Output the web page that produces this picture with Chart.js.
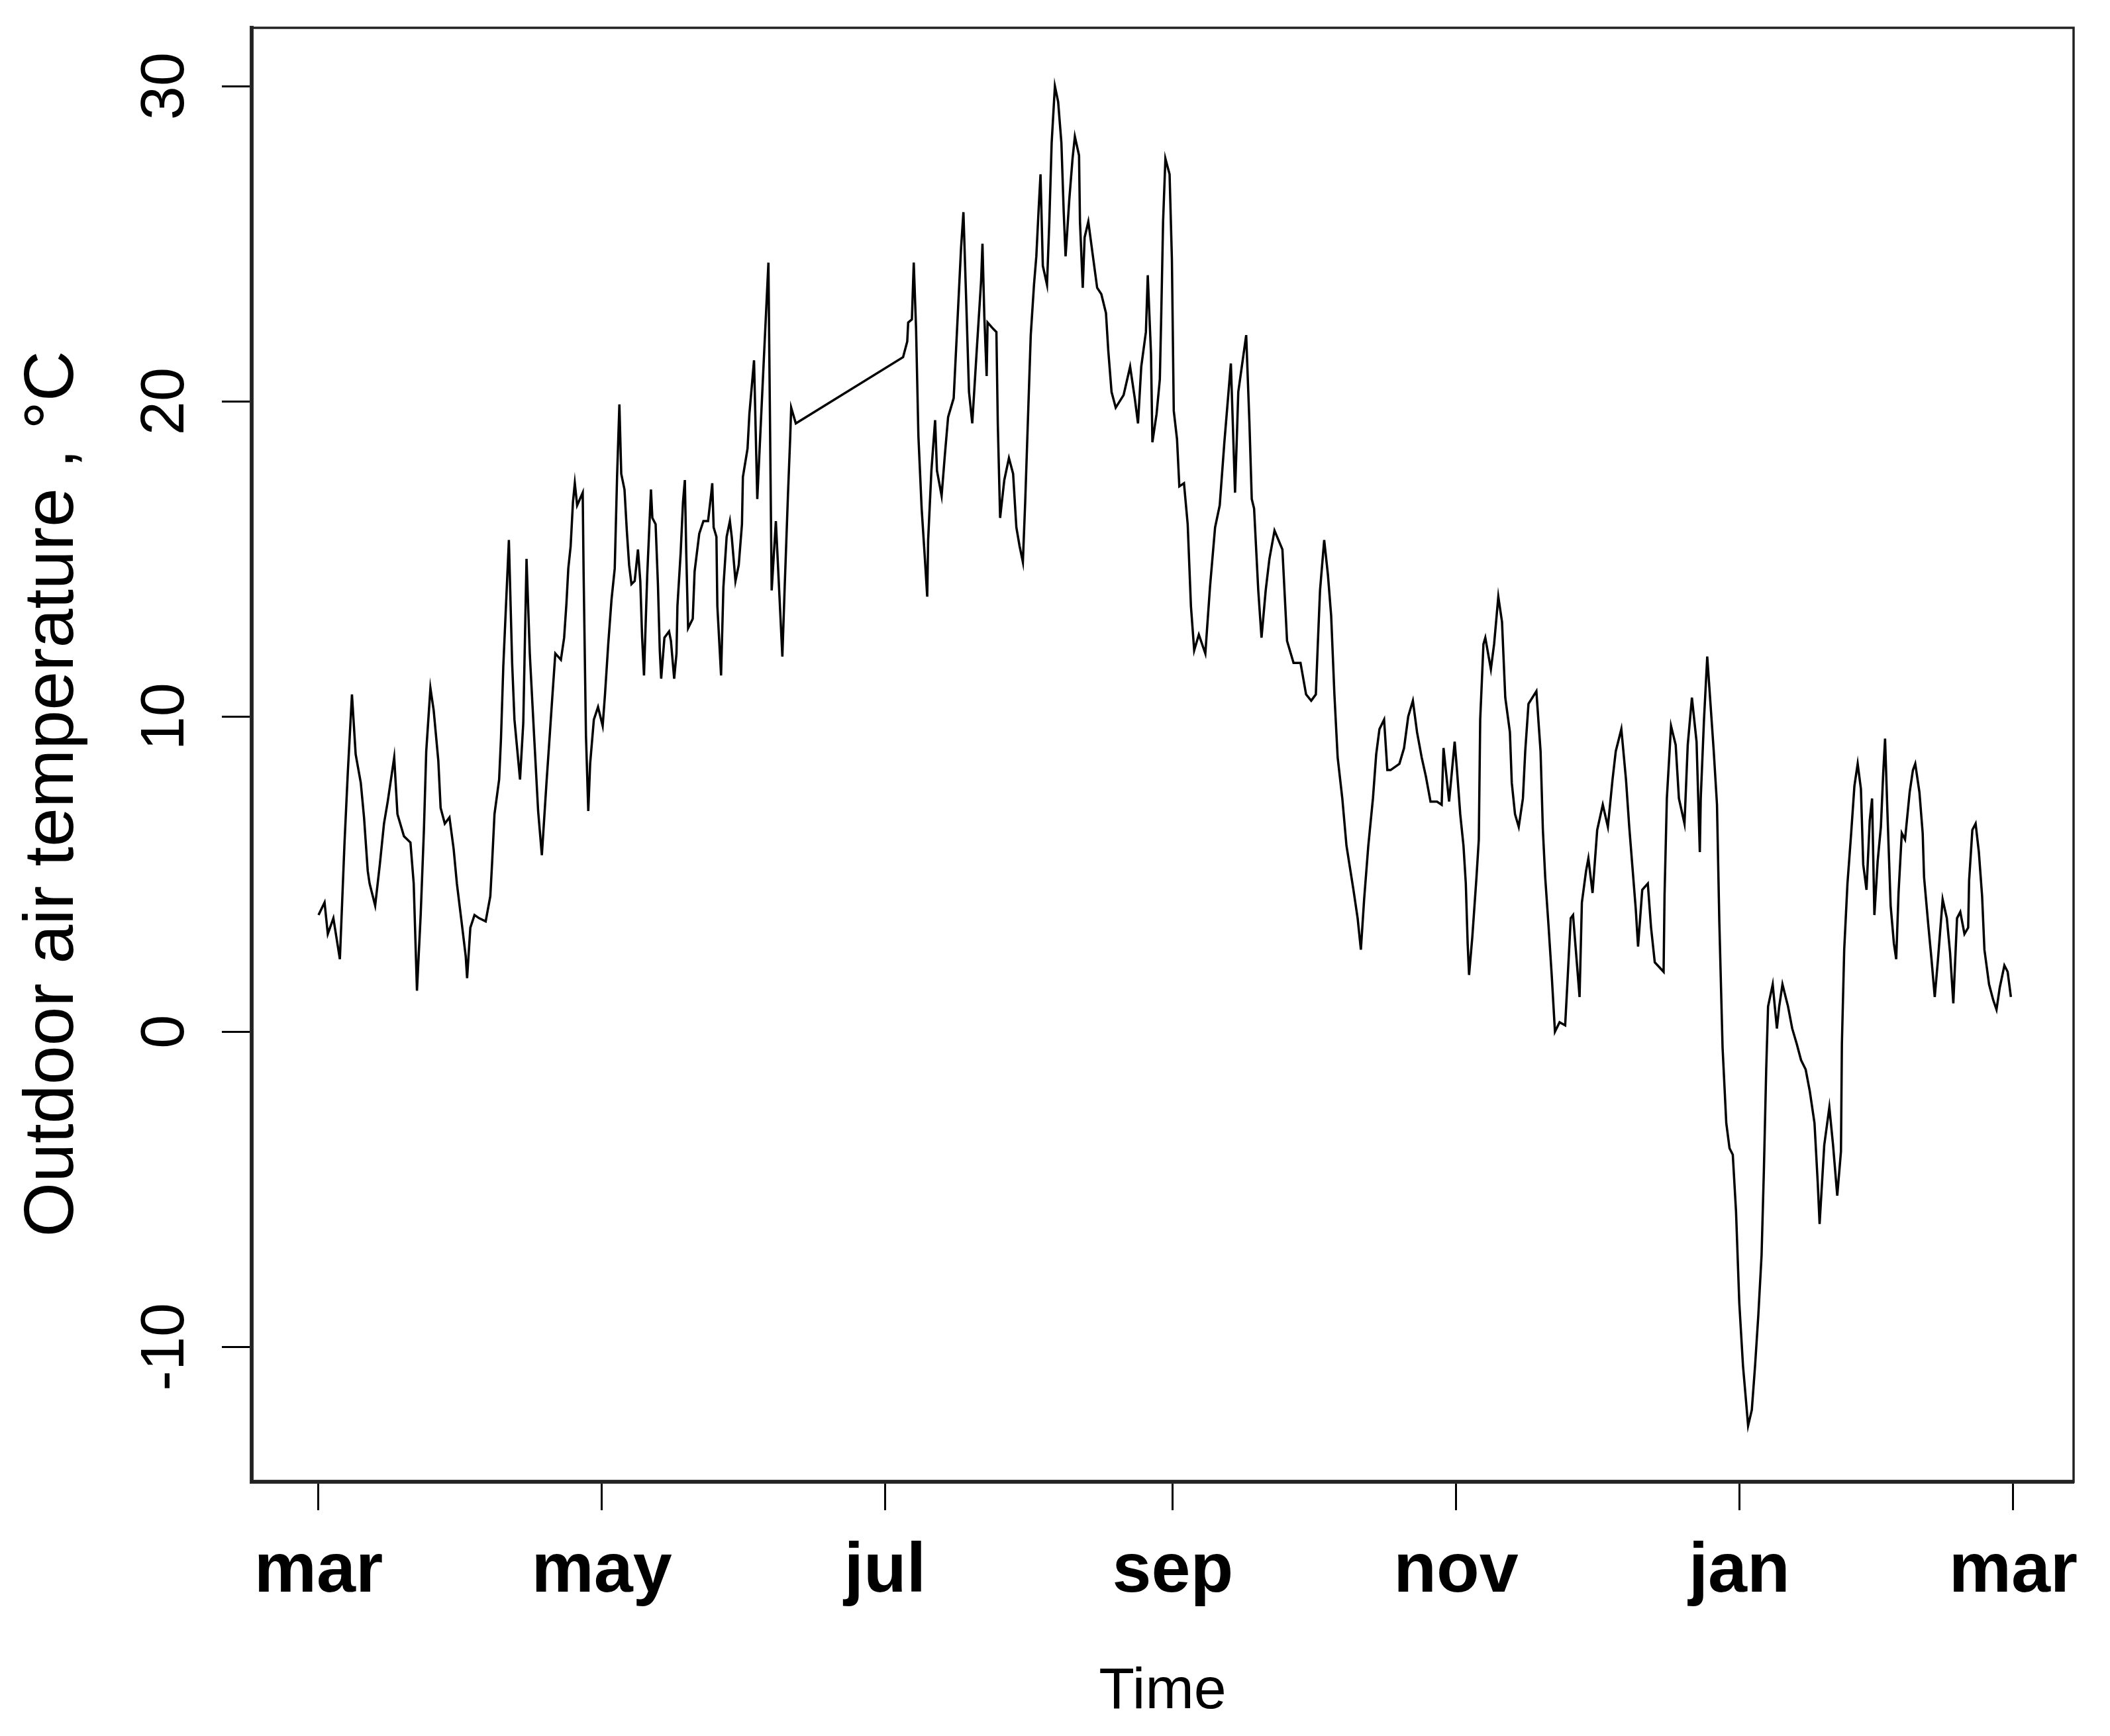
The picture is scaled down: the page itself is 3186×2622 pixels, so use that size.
<!DOCTYPE html>
<html>
<head>
<meta charset="utf-8">
<title>Outdoor air temperature</title>
<script src="https://cdn.jsdelivr.net/npm/chart.js@4.4.1/dist/chart.umd.min.js"></script>
<style>
  html, body { margin: 0; padding: 0; background: #fff; }
  #wrap { width: 3186px; height: 2622px; }
</style>
</head>
<body>
<div id="wrap"><canvas id="chart" width="3186" height="2622"></canvas></div>
<script>
// days counted from 1 March, temperatures in degrees C
const days = [
  0, 1.3, 2, 3.2, 4.6, 5.6, 6.3, 7.2, 8, 9.1, 9.8, 10.6, 11, 12.2, 13.2, 14.1, 14.9, 16.3, 17, 18.4,
  19.8, 20.5, 21.2, 22, 22.7, 23.2, 24.1, 24.8, 25.8, 26.3, 27.2, 28.2, 29.1, 29.8, 30.8, 31.7, 32, 32.7, 33.6, 34.6,
  36, 37, 37.4, 37.9, 38.9, 39.3, 39.8, 41, 41.7, 42.2, 43.4, 44.1, 44.8, 45.5, 46.5, 47.3, 48.1, 49.1, 49.8, 50.3,
  51, 52.2, 52.9, 53.4, 53.8, 54.3, 54.8, 55.2, 55.7, 56.9, 57.1, 57.6, 58.1, 58.5, 59.3, 60.2, 61.2, 61.7, 62.4, 63.1,
  63.8, 64.3, 64.8, 65.2, 65.9, 66.4, 66.9, 67.4, 68.1, 68.8, 69.3, 69.7, 70.1, 70.8, 71.6, 71.9, 72.6, 73.1, 73.5, 73.8,
  74.5, 75.5, 75.9, 76.6, 77.1, 77.3, 78, 78.5, 78.9, 79.2, 79.6, 80.6, 81, 82, 82.9, 83.9, 84.6, 84.8, 85.1, 85.7,
  85.9, 86.7, 87.2, 87.9, 88.6, 89, 89.8, 90.5, 91.2, 91.4, 92.4, 92.8, 93.8, 94.5, 95.9, 96.9, 97.1, 97.6, 98.5, 99.9,
  100.4, 101.1, 101.6, 101.8, 102.8, 125.9, 126.8, 127, 127.8, 128.2, 128.7, 129.2, 129.9, 130.6, 131.1, 131.3, 132, 132.8, 133.2, 134.2,
  134.9, 135.6, 136.8, 137.5, 138.4, 138.9, 139.6, 140.1, 140.8, 141.8, 142.7, 143, 143.4, 143.9, 144.1, 145.3, 146, 146.3, 146.8, 147.7,
  148.7, 149.6, 150.3, 151, 151.7, 152.2, 152.9, 153.4, 154.1, 154.6, 155.1, 155.5, 156, 156.9, 157.4, 157.9, 158.6, 159.3, 160, 160.5,
  160.9, 161.7, 162.4, 162.9, 163.8, 164, 164.6, 165, 165.8, 166.7, 167.7, 168.6, 169.6, 170.1, 170.8, 171.7, 173.4, 174.8, 175.8, 176.5,
  177.2, 178.2, 178.6, 179.3, 179.6, 180.5, 181.2, 181.5, 181.9, 182.4, 183.3, 183.8, 184.2, 184.9, 185.4, 186.4, 187.2, 187.9, 188.6, 189.6,
  191, 192, 193.1, 194.1, 195.1, 196.5, 197.4, 198.1, 199.8, 200.5, 201, 201.5, 202.4, 203.1, 204, 204.8, 205.9, 207.6, 208.6, 210,
  211.5, 212.7, 213.8, 214.8, 215.2, 215.7, 216.6, 217.4, 218.1, 218.8, 219.5, 220.5, 221.4, 222.9, 223.8, 224.5, 225.2, 226.1, 227.1, 227.8,
  228.5, 229.5, 230.2, 230.9, 232.8, 233.8, 234.7, 235.7, 236.6, 237.6, 238.5, 239.5, 240.9, 241.9, 242.3, 243.5, 244.7, 245.2, 245.9, 246.6,
  247.1, 247.5, 247.8, 248.5, 249.4, 249.9, 250.2, 250.9, 251.3, 252.5, 253.2, 254.1, 254.9, 255.6, 256.6, 257, 257.7, 258.5, 259.4, 259.9,
  260.6, 262.3, 263.2, 263.7, 264.2, 264.9, 265.6, 266.3, 267.3, 268.5, 269, 269.7, 270.2, 270.9, 271.6, 272.1, 273, 273.5, 274.4, 275.4,
  276.6, 277.7, 278.7, 279.4, 280.6, 281.6, 282.3, 283, 283.7, 284.2, 285.1, 286.3, 287, 287.8, 289.7, 289.9, 290.4, 291.3, 292.3, 293,
  294.2, 294.9, 295.8, 296.8, 297.5, 297.7, 298.4, 299.1, 299.8, 300.5, 301.2, 301.7, 302.4, 303.2, 303.9, 304.6, 305.3, 306, 306.8, 307.5,
  307.9, 308.7, 309.4, 310.1, 310.8, 311.3, 311.8, 312.2, 313.2, 314.1, 314.6, 315.3, 316.5, 317.4, 318.4, 319.3, 320.3, 321.2, 322.2, 322.9,
  323.3, 324.3, 325.4, 326.2, 327.1, 327.9, 328.1, 328.6, 329.3, 330.1, 330.8, 331.5, 332.2, 332.7, 333.4, 334.1, 334.6, 335.1, 335.8, 336.5,
  337, 337.4, 337.9, 338.6, 339.3, 339.8, 340.3, 341, 341.7, 342.7, 343.4, 343.9, 344.8, 345.5, 345.8, 346.7, 347.4, 348.1, 348.8, 349.8,
  350.7, 351.4, 352.1, 352.9, 353.6, 354.5, 355.3, 355.5, 356.2, 356.9, 357.6, 358.3, 358.8, 359.8, 360.7, 361.4, 362.1, 363.1, 363.8, 364.5
];
const temps = [
  3.7, 4.1, 3.1, 3.6, 2.3, 6.0, 8.2, 10.7, 8.8, 7.9, 6.8, 5.1, 4.7, 4.0, 5.3, 6.6, 7.3, 8.7, 6.9, 6.2,
  6.0, 4.7, 1.3, 3.7, 6.4, 8.9, 10.9, 10.2, 8.6, 7.1, 6.6, 6.8, 5.8, 4.7, 3.5, 2.4, 1.7, 3.3, 3.7, 3.6,
  3.5, 4.3, 5.4, 6.9, 8.0, 9.3, 11.6, 15.6, 11.7, 9.9, 8.0, 9.8, 15.0, 12.0, 9.2, 7.0, 5.6, 7.9, 9.4, 10.5,
  12.0, 11.8, 12.5, 13.6, 14.7, 15.4, 16.8, 17.4, 16.7, 17.1, 14.5, 9.4, 7.0, 8.5, 9.9, 10.3, 9.7, 10.7, 12.3, 13.7,
  14.7, 17.6, 19.9, 17.7, 17.2, 15.9, 14.8, 14.2, 14.3, 15.3, 14.3, 12.5, 11.3, 14.5, 17.2, 16.3, 16.1, 14.2, 12.1, 11.2,
  12.5, 12.7, 12.4, 11.2, 12.0, 13.5, 15.2, 16.8, 17.5, 15.2, 12.8, 13.1, 14.6, 15.8, 16.2, 16.2, 17.1, 17.4, 16.0, 15.7,
  13.5, 11.3, 14.1, 15.7, 16.2, 15.7, 14.3, 14.8, 16.1, 17.6, 18.5, 19.6, 21.3, 16.9, 21.3, 24.4, 21.4, 14.0, 16.2, 11.9,
  14.1, 17.0, 18.9, 19.8, 19.3, 21.4, 21.9, 22.5, 22.6, 24.4, 22.3, 18.9, 16.6, 15.0, 13.8, 15.6, 17.8, 19.4, 17.8, 17.0,
  18.3, 19.5, 20.1, 22.2, 24.9, 26.0, 22.7, 20.3, 19.3, 21.7, 23.8, 25.0, 22.7, 20.8, 22.5, 22.3, 22.2, 19.3, 16.3, 17.5,
  18.2, 17.7, 16.0, 15.4, 14.9, 16.8, 19.9, 22.1, 23.7, 24.6, 26.1, 27.2, 24.3, 23.7, 25.7, 28.2, 30.0, 29.5, 28.2, 26.0,
  24.6, 26.4, 27.7, 28.4, 27.8, 25.7, 23.6, 25.2, 25.7, 24.7, 23.6, 23.4, 22.8, 21.6, 20.3, 19.8, 20.2, 21.1, 20.1, 19.3,
  21.1, 22.2, 24.0, 21.5, 18.7, 19.6, 20.7, 22.7, 25.7, 27.7, 27.2, 24.5, 19.7, 18.8, 17.3, 17.4, 16.1, 13.5, 12.1, 12.6,
  12.0, 14.1, 16.0, 16.7, 18.7, 21.2, 17.1, 20.3, 22.1, 19.3, 16.9, 16.6, 14.0, 12.5, 14.0, 15.0, 15.9, 15.3, 12.4, 11.7,
  11.7, 10.7, 10.5, 10.7, 12.2, 14.0, 15.6, 14.5, 13.2, 10.7, 8.7, 7.4, 5.9, 4.5, 3.6, 2.6, 4.2, 5.9, 7.4, 8.8,
  9.6, 9.9, 8.3, 8.3, 8.5, 9.0, 10.0, 10.5, 9.5, 8.7, 8.1, 7.3, 7.3, 7.2, 9.0, 7.3, 9.2, 8.3, 6.9, 5.9,
  4.7, 2.8, 1.8, 3.0, 4.9, 6.1, 9.9, 12.3, 12.5, 11.5, 12.3, 13.8, 13.0, 10.6, 9.5, 7.9, 6.9, 6.5, 7.4, 8.9,
  10.4, 10.8, 8.9, 6.4, 4.9, 3.4, 1.8, 0.0, 0.3, 0.2, 1.6, 3.6, 3.7, 2.4, 1.1, 4.1, 5.1, 5.5, 4.4, 6.4,
  7.2, 6.5, 8.0, 8.9, 9.6, 8.0, 6.5, 5.2, 3.9, 2.7, 4.5, 4.7, 3.3, 2.2, 1.9, 4.3, 7.4, 9.7, 9.1, 7.4,
  6.6, 9.1, 10.6, 9.2, 5.7, 7.4, 9.9, 11.9, 10.4, 8.9, 7.2, 3.5, -0.5, -2.9, -3.7, -3.9, -5.7, -8.6, -10.6, -11.8,
  -12.5, -12.0, -10.6, -9.0, -7.1, -4.4, -1.2, 0.8, 1.5, 0.1, 0.8, 1.5, 0.8, 0.1, -0.4, -0.9, -1.2, -1.9, -2.9, -4.8,
  -6.1, -3.6, -2.4, -3.6, -5.2, -3.8, -0.4, 2.6, 4.7, 6.3, 7.8, 8.5, 7.7, 5.3, 4.5, 6.7, 7.4, 3.7, 5.4, 6.5,
  8.2, 9.3, 7.0, 4.0, 2.8, 2.3, 4.4, 6.3, 6.1, 7.6, 8.3, 8.5, 7.6, 6.3, 4.9, 3.4, 2.3, 1.1, 2.3, 4.2,
  3.6, 2.5, 0.9, 3.6, 3.8, 3.1, 3.3, 4.8, 6.4, 6.6, 5.7, 4.3, 2.6, 1.5, 1.0, 0.7, 1.4, 2.1, 1.9, 1.1
];

// month ticks (days from 1 March) and their labels
const monthDays = [0, 61, 122, 184, 245, 306, 365];
const monthLabels = ["mar", "may", "jul", "sep", "nov", "jan", "mar"];
const tempTicks = [-10, 0, 10, 20, 30];

const FONT = "'Liberation Sans', Arial, sans-serif";
Chart.defaults.font.family = FONT;
Chart.defaults.color = "#000";

// box around the plot region, like R's box()
const boxPlugin = {
  id: "plotBox",
  afterDraw(chart) {
    const { ctx, chartArea: a } = chart;
    ctx.save();
    ctx.strokeStyle = "#222";
    ctx.lineWidth = 3.5;
    ctx.strokeRect(a.left, a.top, a.right - a.left, a.bottom - a.top);
    ctx.restore();
  }
};

const points = days.map((d, i) => ({ x: d, y: temps[i] }));

new Chart(document.getElementById("chart"), {
  type: "line",
  data: {
    datasets: [{
      data: points,
      borderColor: "#000",
      borderWidth: 3.5,
      pointRadius: 0,
      tension: 0,
      fill: false
    }]
  },
  plugins: [boxPlugin],
  options: {
    responsive: false,
    animation: false,
    devicePixelRatio: 1,
    layout: { padding: { top: 42, right: 55, left: 0, bottom: 0 } },
    plugins: {
      legend: { display: false },
      tooltip: { enabled: false }
    },
    scales: {
      x: {
        type: "linear",
        min: -14.4,
        max: 378,
        afterBuildTicks: (scale) => { scale.ticks = monthDays.map(v => ({ value: v })); },
        afterFit: (scale) => {
          scale.height = 384;
          scale.paddingLeft = 0;
          scale.paddingRight = 0;
        },
        grid: {
          drawOnChartArea: false,
          drawTicks: true,
          tickLength: 43,
          tickWidth: 3,
          tickColor: "#000"
        },
        border: { display: true, width: 6, color: "#333" },
        ticks: {
          autoSkip: false,
          maxRotation: 0,
          minRotation: 0,
          padding: 30,
          color: "#000",
          font: { size: 106, weight: "bold", family: FONT },
          callback: (value) => monthLabels[monthDays.indexOf(value)]
        },
        title: {
          display: true,
          text: "Time",
          color: "#000",
          font: { size: 88, family: FONT, lineHeight: 1.2 },
          padding: { top: 0, bottom: 13 }
        }
      },
      y: {
        type: "linear",
        min: -14.28,
        max: 31.85,
        afterBuildTicks: (scale) => { scale.ticks = tempTicks.map(v => ({ value: v })); },
        afterFit: (scale) => {
          scale.width = 380;
          scale.paddingTop = 0;
          scale.paddingBottom = 0;
        },
        grid: {
          drawOnChartArea: false,
          drawTicks: true,
          tickLength: 45,
          tickWidth: 3,
          tickColor: "#000"
        },
        border: { display: true, width: 6, color: "#333" },
        ticks: {
          minRotation: 90,
          maxRotation: 90,
          crossAlign: "center",
          padding: 17,
          color: "#000",
          font: { size: 92, family: FONT },
          callback: (value) => String(value)
        },
        title: {
          display: true,
          text: "Outdoor air temperature , \u00b0C\u00a0\u00a0\u00a0\u00a0",
          color: "#000",
          font: { size: 106, family: FONT, lineHeight: 1.2 },
          padding: { top: 17, bottom: 0 }
        }
      }
    }
  }
});
</script>
</body>
</html>
